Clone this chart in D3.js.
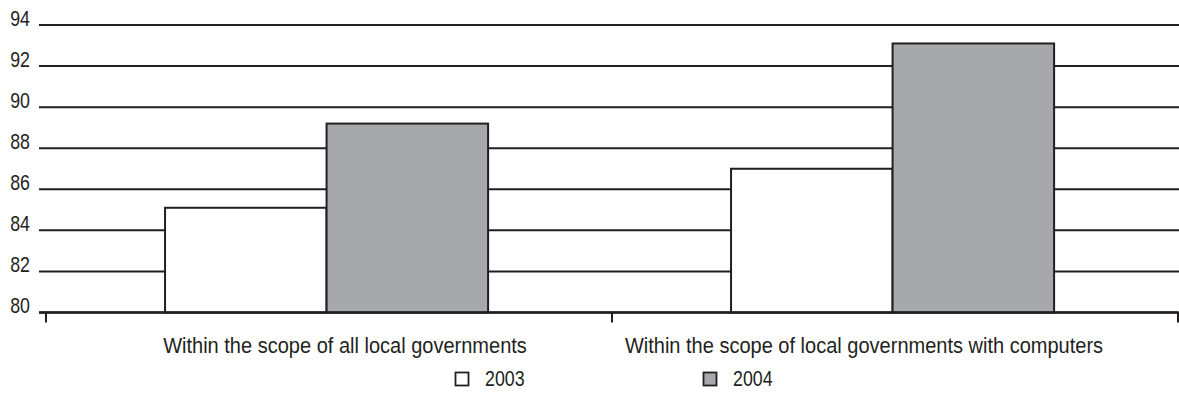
<!DOCTYPE html>
<html>
<head>
<meta charset="utf-8">
<script src="https://cdn.jsdelivr.net/npm/d3@7/dist/d3.min.js"></script>
<style>
  html, body { margin: 0; padding: 0; background: #fff; }
  svg { display: block; }
  text { font-family: "Liberation Sans", Arial, sans-serif; fill: #231f20; }
</style>
</head>
<body>
<svg id="chart" width="1179" height="398"></svg>
<script>
// Chart data
const categories = [
  "Within the scope of all local governments",
  "Within the scope of local governments with computers"
];
const years = ["2003", "2004"];
const values2003 = [85.1, 87.0];
const values2004 = [89.2, 93.1];
const yTicks = [80, 82, 84, 86, 88, 90, 92, 94];

const ink = "#231f20";
const fills = { "2003": "#ffffff", "2004": "#a7a8ab" };
const squeezeWords = 0.89;   // horizontal squeeze for a condensed face
const squeezeDigits = 0.79;
const fontSize = 22.5;

const svg = d3.select("#chart");
const W = 1179;
const axisLeft = 46, axisRight = 1178;
const gridLeft = 39;

const y = d3.scaleLinear().domain([80, 94]).range([312.5, 25]);

const x0 = d3.scaleBand().domain(categories).range([axisLeft, axisRight]).padding(0);
const x1 = d3.scaleBand().domain(years)
  .range([0, x0.bandwidth()])
  .paddingInner(0).paddingOuter(0.752).align(0.49);

// condensed text helper: positions a group, squeezes the text inside it
function label(sel, xf, yf, anchor, sx) {
  const g = sel.append("g")
    .attr("transform", (d, i) => `translate(${xf(d, i)},${yf(d, i)}) scale(${sx},1)`);
  return g.append("text")
    .attr("text-anchor", anchor)
    .attr("font-size", fontSize);
}

// Horizontal gridlines with labels sitting on them
const grid = svg.append("g");
grid.selectAll("line").data(yTicks).join("line")
  .attr("x1", gridLeft).attr("x2", W)
  .attr("y1", d => y(d)).attr("y2", d => y(d))
  .attr("stroke", ink).attr("stroke-width", 2);
const yl = grid.selectAll("g.yl").data(yTicks).join("g").attr("class", "yl");
label(yl, () => 30, d => y(d) + 0.8, "end", squeezeDigits).text(d => d);

// Bars
const rows = categories.map((c, i) => ({ cat: c, vals: [
  { year: "2003", v: values2003[i] },
  { year: "2004", v: values2004[i] }
]}));
const groups = svg.append("g").selectAll("g").data(rows).join("g")
  .attr("transform", d => `translate(${x0(d.cat)},0)`);
groups.selectAll("rect").data(d => d.vals).join("rect")
  .attr("x", d => x1(d.year))
  .attr("width", x1.bandwidth())
  .attr("y", d => y(d.v))
  .attr("height", d => y(80) - y(d.v))
  .attr("fill", d => fills[d.year])
  .attr("stroke", ink).attr("stroke-width", 2);

// Category axis
const xAxis = svg.append("g");
xAxis.append("line")
  .attr("x1", gridLeft).attr("x2", axisRight)
  .attr("y1", y(80)).attr("y2", y(80))
  .attr("stroke", ink).attr("stroke-width", 2.5);
const tickXs = [axisLeft, ...categories.slice(1).map(c => x0(c)), axisRight];
xAxis.selectAll(".tick").data(tickXs).join("line")
  .attr("class", "tick")
  .attr("x1", d => d).attr("x2", d => d)
  .attr("y1", y(80)).attr("y2", y(80) + 10)
  .attr("stroke", ink).attr("stroke-width", 2);

const labelShift = [16, -31];
const cl = xAxis.selectAll("g.cat").data(categories).join("g").attr("class", "cat");
label(cl, (d, i) => x0(d) + x0.bandwidth() / 2 + labelShift[i], () => 353, "middle", squeezeWords)
  .text(d => d);

// Legend
const legendX = [455, 703];
const legend = svg.append("g").selectAll("g").data(years).join("g")
  .attr("transform", (d, i) => `translate(${legendX[i]},372)`);
legend.append("rect")
  .attr("x", 0.5).attr("y", 0.5).attr("width", 13).attr("height", 13)
  .attr("fill", d => fills[d]).attr("stroke", ink).attr("stroke-width", 1.8);
label(legend, () => 30, () => 14, "start", squeezeDigits).text(d => d);
</script>
</body>
</html>
